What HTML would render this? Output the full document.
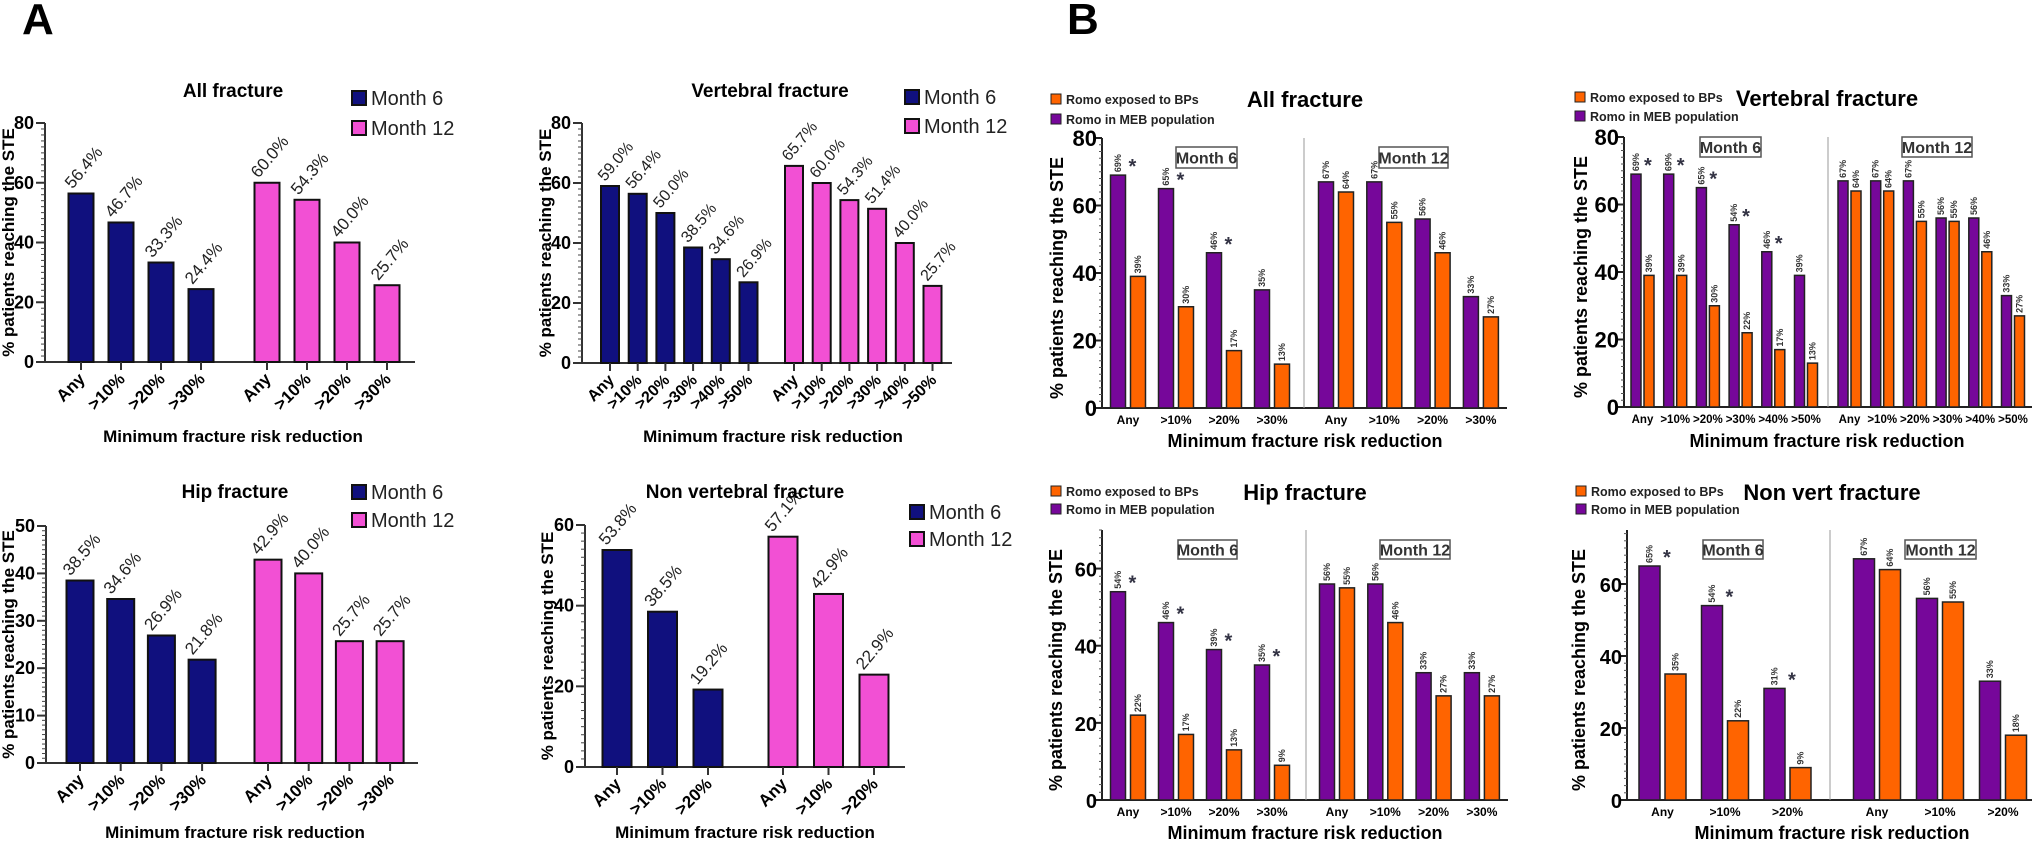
<!DOCTYPE html>
<html><head><meta charset="utf-8"><style>
html,body{margin:0;padding:0;background:#fff;}
svg{display:block;font-family:"Liberation Sans",Arial,sans-serif;}
</style></head><body>
<svg id="fig" width="2034" height="846" viewBox="0 0 2034 846" xmlns="http://www.w3.org/2000/svg">
<text x="22" y="34" font-size="44" font-weight="bold">A</text>
<text x="1067" y="34" font-size="44" font-weight="bold">B</text>
</svg>
<script>
// ---- Panel A data ----
const catsA4 = ["Any", ">10%", ">20%", ">30%"];
const catsA6 = ["Any", ">10%", ">20%", ">30%", ">40%", ">50%"];
const catsA3 = ["Any", ">10%", ">20%"];
const allM6 = [56.4, 46.7, 33.3, 24.4];
const allM12 = [60.0, 54.3, 40.0, 25.7];
const vertM6 = [59.0, 56.4, 50.0, 38.5, 34.6, 26.9];
const vertM12 = [65.7, 60.0, 54.3, 51.4, 40.0, 25.7];
const hipM6 = [38.5, 34.6, 26.9, 21.8];
const hipM12 = [42.9, 40.0, 25.7, 25.7];
const nvM6 = [53.8, 38.5, 19.2];
const nvM12 = [57.1, 42.9, 22.9];
const ticksA80 = [0, 20, 40, 60, 80];
const ticksA50 = [0, 10, 20, 30, 40, 50];
const ticksA60 = [0, 20, 40, 60];
// ---- Panel B data ----
const bAllPurple6 = [69, 65, 46, 35], bAllOrange6 = [39, 30, 17, 13];
const bAllPurple12 = [67, 67, 56, 33], bAllOrange12 = [64, 55, 46, 27];
const bAllStars = [true, true, true, false];
const bVertPurple6 = [69, 69, 65, 54, 46, 39], bVertOrange6 = [39, 39, 30, 22, 17, 13];
const bVertPurple12 = [67, 67, 67, 56, 56, 33], bVertOrange12 = [64, 64, 55, 55, 46, 27];
const bVertStars = [true, true, true, true, true, false];
const bHipPurple6 = [54, 46, 39, 35], bHipOrange6 = [22, 17, 13, 9];
const bHipPurple12 = [56, 56, 33, 33], bHipOrange12 = [55, 46, 27, 27];
const bHipStars = [true, true, true, true];
const bNvPurple6 = [65, 54, 31], bNvOrange6 = [35, 22, 9];
const bNvPurple12 = [67, 56, 33], bNvOrange12 = [64, 55, 18];
const bNvStars = [true, true, true];
const ticksB80 = [0, 20, 40, 60, 80];
const ticksB60 = [0, 20, 40, 60];

const NS = "http://www.w3.org/2000/svg";
const svg = document.getElementById("fig");
function mk(tag, attrs, parent, txt) {
  const e = document.createElementNS(NS, tag);
  for (const k in attrs) e.setAttribute(k, attrs[k]);
  if (txt !== undefined) e.textContent = txt;
  (parent || svg).appendChild(e);
  return e;
}
const NAVY = "#10107e", PINK = "#f250d4", PURPLE = "#76079a", ORANGE = "#ff6400";

function panelA(c) {
  const g = mk("g", {});
  
  
  const yS = v => c.y0 - (v / c.ymax) * (c.y0 - c.yTop);
  const ya = mk("line", {x1: c.ax, y1: c.yTop, x2: c.ax, y2: c.y0, stroke: "#333", "stroke-width": 2}, g);
  
  
  const xa = mk("line", {x1: c.ax, y1: c.y0, x2: c.xEnd, y2: c.y0, stroke: "#333", "stroke-width": 2}, g);
  
  
  for (let v = 0; v <= c.ymax; v += c.minor) {
    mk("line", {x1: c.ax - 4, y1: yS(v), x2: c.ax, y2: yS(v), stroke: "#444", "stroke-width": 1}, g);
  }
  c.ticks.forEach(t => {
    mk("line", {x1: c.ax - 9, y1: yS(t), x2: c.ax, y2: yS(t), stroke: "#333", "stroke-width": 2}, g);
    const tl = mk("text", {x: c.ax - 11, y: yS(t) + 6, "text-anchor": "end", "font-size": 18, "font-weight": "bold"}, g, t);
    
    
  });
  const yt = mk("text", {transform: `translate(${c.ytX},${(c.y0 + c.yTop) / 2}) rotate(-90)`, "text-anchor": "middle", "font-size": 17, "font-weight": "bold"}, g, "% patients reaching the STE");
  
  
  const series = [[c.m6, c.f6, NAVY, "month-6"], [c.m12, c.f12, PINK, "month-12"]];
  series.forEach(([vals, first, col, nm]) => {
    vals.forEach((v, i) => {
      const cx = first + i * c.step;
      const b = mk("rect", {x: cx - c.bw / 2, y: yS(v), width: c.bw, height: c.y0 - yS(v), fill: col, stroke: "#111", "stroke-width": 2}, g);
      
      
      const lx = cx - c.bw / 2 + 4, ly = yS(v) - 4;
      const lb = mk("text", {transform: `translate(${lx},${ly}) rotate(-50)`, "font-size": c.lfs, fill: "#222"}, g, v.toFixed(1) + "%");
      
      
      mk("line", {x1: cx, y1: c.y0, x2: cx, y2: c.y0 + 8, stroke: "#333", "stroke-width": 2}, g);
      const cl = mk("text", {transform: `translate(${cx + 5},${c.y0 + 18}) rotate(-45)`, "text-anchor": "end", "font-size": c.cfs, "font-weight": "bold"}, g, c.cats[i]);
      
      
    });
  });
  const tt = mk("text", {x: c.tx, y: c.ty + 7, "text-anchor": "middle", "font-size": 19, "font-weight": "bold"}, g, c.title);
  
  
  const xt = mk("text", {x: c.xtX, y: c.xtY + 6, "text-anchor": "middle", "font-size": 17, "font-weight": "bold"}, g, "Minimum fracture risk reduction");
  
  
  [[c.legY1, NAVY, "Month 6"], [c.legY2, PINK, "Month 12"]].forEach(([y, col, t]) => {
    const r = mk("rect", {x: c.legX, y: y - 7, width: 14, height: 14, fill: col, stroke: "#111", "stroke-width": 2}, g);
    
    
    const lt = mk("text", {x: c.legX + 19, y: y + 7, "font-size": 20, fill: "#222"}, g, t);
    
    
  });
}

function panelB(c) {
  const g = mk("g", {});
  
  
  const yS = v => c.y0 - (v / c.ymax) * (c.y0 - c.yTop);
  const ya = mk("line", {x1: c.ax, y1: c.yTop, x2: c.ax, y2: c.y0, stroke: "#222", "stroke-width": 2}, g);
  
  
  const xa = mk("line", {x1: c.ax, y1: c.y0, x2: c.xEnd, y2: c.y0, stroke: "#222", "stroke-width": 2}, g);
  
  
  for (let v = 0; v <= c.ymax; v += 2) {
    mk("line", {x1: c.ax - 3, y1: yS(v), x2: c.ax, y2: yS(v), stroke: "#555", "stroke-width": 1}, g);
  }
  c.ticks.forEach(t => {
    mk("line", {x1: c.ax - 6, y1: yS(t), x2: c.ax, y2: yS(t), stroke: "#222", "stroke-width": 2}, g);
    const tl = mk("text", {x: c.ax - 5, y: yS(t) + 8, "text-anchor": "end", "font-size": c.tfs, "font-weight": "bold"}, g, t);
    
    
  });
  const dv = mk("line", {x1: c.div, y1: c.yTop, x2: c.div, y2: c.y0, stroke: "#999", "stroke-width": 1}, g);
  
  
  const yt = mk("text", {transform: `translate(${c.ytX},${(c.y0 + c.yTop) / 2 + 5}) rotate(-90)`, "text-anchor": "middle", "font-size": 18, "font-weight": "bold"}, g, "% patients reaching the STE");
  
  
  const groups = [[c.p6, c.o6, c.f6, c.step6, c.stars], [c.p12, c.o12, c.f12, c.step12, null]];
  groups.forEach(([pv, ov, first, step, stars]) => {
    pv.forEach((p, i) => {
      const gc = first + i * step;
      [[p, gc - c.off, PURPLE, "bar-romo-meb"], [ov[i], gc + c.off, ORANGE, "bar-romo-bp"]].forEach(([v, cx, col, nm]) => {
        const b = mk("rect", {x: cx - c.bw / 2, y: yS(v), width: c.bw, height: c.y0 - yS(v), fill: col, stroke: "#222", "stroke-width": 1.5}, g);
        
        
        const lb = mk("text", {transform: `translate(${cx + 3},${yS(v) - 3}) rotate(-90)`, "font-size": 9, "font-weight": "bold", fill: "#333"}, g, v + "%");
        
        
      });
      if (stars && stars[i]) {
        const s = mk("text", {x: gc - c.off + c.bw / 2 + 3, y: yS(p) - 2, "font-size": 20, "font-weight": "bold", fill: "#334"}, g, "*");
        
        
      }
      const cl = mk("text", {x: gc, y: c.y0 + 16, "text-anchor": "middle", "font-size": c.cfs, "font-weight": "bold"}, g, c.cats[i]);
      
      
    });
  });
  [[c.box6, "Month 6"], [c.box12, "Month 12"]].forEach(([bx, t]) => {
    const r = mk("rect", {x: bx[0], y: bx[1], width: bx[2], height: bx[3], fill: "#fff", stroke: "#555", "stroke-width": 1.5}, g);
    
    
    const tx = mk("text", {x: bx[0] + bx[2] / 2, y: bx[1] + bx[3] / 2 + 6, "text-anchor": "middle", "font-size": 16, "font-weight": "bold", fill: "#333"}, g, t);
    
    
  });
  const tt = mk("text", {x: c.tx, y: c.ty + 8, "text-anchor": "middle", "font-size": 22, "font-weight": "bold"}, g, c.title);
  
  
  const xt = mk("text", {x: c.tx, y: c.xtY + 7, "text-anchor": "middle", "font-size": 18, "font-weight": "bold"}, g, "Minimum fracture risk reduction");
  
  
  [[c.legY1, ORANGE, "Romo exposed to BPs"], [c.legY2, PURPLE, "Romo in MEB population"]].forEach(([y, col, t]) => {
    const r = mk("rect", {x: c.legX, y: y - 5, width: 10, height: 10, fill: col, stroke: "#222", "stroke-width": 1}, g);
    
    
    const lt = mk("text", {x: c.legX + 15, y: y + 5, "font-size": 12.5, "font-weight": "bold", fill: "#222"}, g, t);
    
    
  });
}

panelA({name: "chart-a-all-fracture", ax: 45, y0: 362, yTop: 123, ymax: 80, minor: 2, ticks: ticksA80, xEnd: 415,
  m6: allM6, m12: allM12, cats: catsA4, f6: 81, f12: 267, step: 40, bw: 25, lfs: 17, cfs: 17,
  title: "All fracture", tx: 233, ty: 90, xtX: 233, xtY: 436, ytX: 14, legX: 352, legY1: 98, legY2: 128});
panelA({name: "chart-a-vertebral-fracture", ax: 582, y0: 363, yTop: 123, ymax: 80, minor: 2, ticks: ticksA80, xEnd: 952,
  m6: vertM6, m12: vertM12, cats: catsA6, f6: 610, f12: 794, step: 27.7, bw: 18, lfs: 16, cfs: 16,
  title: "Vertebral fracture", tx: 770, ty: 90, xtX: 773, xtY: 436, ytX: 551, legX: 905, legY1: 97, legY2: 126});
panelA({name: "chart-a-hip-fracture", ax: 46, y0: 763, yTop: 526, ymax: 50, minor: 1, ticks: ticksA50, xEnd: 418,
  m6: hipM6, m12: hipM12, cats: catsA4, f6: 80, f12: 268, step: 40.7, bw: 27, lfs: 17, cfs: 17,
  title: "Hip fracture", tx: 235, ty: 491, xtX: 235, xtY: 832, ytX: 14, legX: 352, legY1: 492, legY2: 520});
panelA({name: "chart-a-non-vertebral-fracture", ax: 585, y0: 767, yTop: 525, ymax: 60, minor: 2, ticks: ticksA60, xEnd: 905,
  m6: nvM6, m12: nvM12, cats: catsA3, f6: 617, f12: 783, step: 45.5, bw: 29, lfs: 17, cfs: 17,
  title: "Non vertebral fracture", tx: 745, ty: 491, xtX: 745, xtY: 832, ytX: 553, legX: 910, legY1: 512, legY2: 539});

panelB({name: "chart-b-all-fracture", ax: 1102, y0: 408, yTop: 138, ymax: 80, ticks: ticksB80, tfs: 22, xEnd: 1507, div: 1304,
  p6: bAllPurple6, o6: bAllOrange6, p12: bAllPurple12, o12: bAllOrange12, stars: bAllStars, cats: catsA4,
  f6: 1128, step6: 48, f12: 1336, step12: 48.3, bw: 15, off: 10, cfs: 12,
  box6: [1176, 147, 61, 21], box12: [1379, 147, 69, 21],
  title: "All fracture", tx: 1305, ty: 99, xtY: 440, ytX: 1063, legX: 1051, legY1: 99, legY2: 119});
panelB({name: "chart-b-vertebral-fracture", ax: 1624, y0: 407, yTop: 137, ymax: 80, ticks: ticksB80, tfs: 22, xEnd: 2032, div: 1828,
  p6: bVertPurple6, o6: bVertOrange6, p12: bVertPurple12, o12: bVertOrange12, stars: bVertStars, cats: catsA6,
  f6: 1642.5, step6: 32.7, f12: 1849.5, step12: 32.7, bw: 10, off: 6.5, cfs: 11.5,
  box6: [1700, 137, 61, 20], box12: [1902, 137, 70, 20],
  title: "Vertebral fracture", tx: 1827, ty: 98, xtY: 440, ytX: 1587, legX: 1575, legY1: 97, legY2: 116});
panelB({name: "chart-b-hip-fracture", ax: 1102, y0: 800, yTop: 530, ymax: 70, ticks: ticksB60, tfs: 20, xEnd: 1508, div: 1306,
  p6: bHipPurple6, o6: bHipOrange6, p12: bHipPurple12, o12: bHipOrange12, stars: bHipStars, cats: catsA4,
  f6: 1128, step6: 48, f12: 1337, step12: 48.3, bw: 15, off: 10, cfs: 12,
  box6: [1178, 540, 59, 19], box12: [1380, 540, 70, 19],
  title: "Hip fracture", tx: 1305, ty: 492, xtY: 832, ytX: 1062, legX: 1051, legY1: 491, legY2: 509});
panelB({name: "chart-b-non-vert-fracture", ax: 1627, y0: 800, yTop: 530, ymax: 75, ticks: ticksB60, tfs: 20, xEnd: 2032, div: 1830,
  p6: bNvPurple6, o6: bNvOrange6, p12: bNvPurple12, o12: bNvOrange12, stars: bNvStars, cats: catsA3,
  f6: 1662.5, step6: 62.5, f12: 1877, step12: 63, bw: 21, off: 13, cfs: 12,
  box6: [1703, 540, 60, 19], box12: [1905, 540, 71, 19],
  title: "Non vert fracture", tx: 1832, ty: 492, xtY: 832, ytX: 1585, legX: 1576, legY1: 491, legY2: 509});
</script>
</body></html>
